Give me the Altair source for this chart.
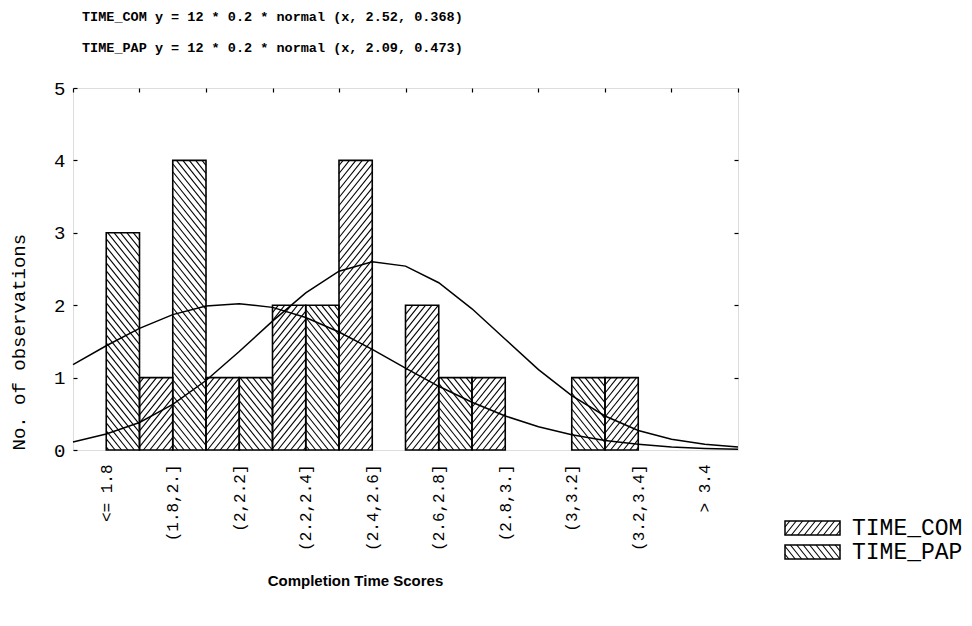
import altair as alt
import pandas as pd

# ---------------- data ----------------
categories = ["<= 1.8", "(1.8,2.]", "(2,2.2]", "(2.2,2.4]", "(2.4,2.6]",
              "(2.6,2.8]", "(2.8,3.]", "(3,3.2]", "(3.2,3.4]", "> 3.4"]
bin_edges = [1.6, 1.8, 2.0, 2.2, 2.4, 2.6, 2.8, 3.0, 3.2, 3.4, 3.6]
time_com = [0, 1, 1, 2, 4, 2, 1, 0, 1, 0]
time_pap = [3, 4, 1, 2, 0, 1, 0, 1, 0, 0]

curve_x = [1.6, 1.7, 1.8, 1.9, 2.0, 2.1, 2.2, 2.3, 2.4, 2.5, 2.6,
           2.7, 2.8, 2.9, 3.0, 3.1, 3.2, 3.3, 3.4, 3.5, 3.6]
curve_com = [0.11, 0.22, 0.38, 0.63, 0.96, 1.36, 1.78, 2.17, 2.47, 2.60, 2.54,
             2.31, 1.95, 1.53, 1.11, 0.75, 0.47, 0.27, 0.15, 0.08, 0.04]
curve_pap = [1.18, 1.44, 1.68, 1.87, 1.99, 2.02, 1.97, 1.83, 1.63, 1.39, 1.13,
             0.88, 0.66, 0.47, 0.32, 0.21, 0.13, 0.08, 0.04, 0.02, 0.01]

title_lines = ["TIME_COM y = 12 * 0.2 * normal (x, 2.52, 0.368)",
               "TIME_PAP y = 12 * 0.2 * normal (x, 2.09, 0.473)"]
series_names = ["TIME_COM", "TIME_PAP"]

# ---------------- geometry ----------------
W, H = 665, 362
XMIN, XMAX, YMAX = bin_edges[0], bin_edges[-1], 5
KX = W / (XMAX - XMIN)
KY = H / YMAX
SLOPE = 1.25
SPACING = 8.0
FONT_MONO = "Liberation Mono"


def hatch(w, h, direction, phase=0.0):
    """segments (x1,y1,x2,y2) of diagonal hatch inside a w x h box, y up"""
    segs = []
    k = int(-(SLOPE * w + phase) // SPACING) - 1
    while True:
        c = k * SPACING + phase
        k += 1
        if c > h:
            break
        lo = max(0.0, -c / SLOPE)
        hi = min(w, (h - c) / SLOPE)
        if hi - lo <= 0.3:
            continue
        x1, y1, x2, y2 = lo, SLOPE * lo + c, hi, SLOPE * hi + c
        if direction == "\\":
            x1, x2 = w - x1, w - x2
        segs.append((x1, y1, x2, y2))
    return segs


bar_rows, hatch_rows = [], []
for i, cat in enumerate(categories):
    lo = bin_edges[i]
    half = (bin_edges[i + 1] - lo) / 2
    for j, (name, counts) in enumerate(zip(series_names, [time_com, time_pap])):
        v = counts[i]
        if v <= 0:
            continue
        x0 = lo + j * half
        x1 = x0 + half
        bar_rows.append({"series": name, "cat": cat, "x0": x0, "x1": x1,
                         "count": v, "base": 0})
        wpx = half * KX
        hpx = v * KY
        d = "/" if name == "TIME_COM" else "\\"
        phase = ((x0 - XMIN) * KX * SLOPE) % SPACING
        for (a, b, c, e) in hatch(wpx, hpx, d, phase):
            hatch_rows.append({"hx": x0 + a / KX, "hy": b / KY,
                               "hx2": x0 + c / KX, "hy2": e / KY})

bars = pd.DataFrame(bar_rows)
hatches = pd.DataFrame(hatch_rows)

curves = pd.DataFrame(
    [{"series": "TIME_COM", "x": x, "y": y} for x, y in zip(curve_x, curve_com)] +
    [{"series": "TIME_PAP", "x": x, "y": y} for x, y in zip(curve_x, curve_pap)]
)

# legend (drawn outside the plot area, pixel coordinates relative to plot origin)
LEG_X, LEG_W, LEG_H = 712, 55, 14
leg_y = [433, 457]
leg_rects, leg_hatch, leg_text = [], [], []
for name, ytop in zip(series_names, leg_y):
    leg_rects.append({"lx": LEG_X, "lx2": LEG_X + LEG_W, "ly": ytop, "ly2": ytop + LEG_H})
    d = "/" if name == "TIME_COM" else "\\"
    for (a, b, c, e) in hatch(LEG_W, LEG_H, d):
        leg_hatch.append({"lx": LEG_X + a, "ly": ytop + LEG_H - b,
                          "lx2": LEG_X + c, "ly2": ytop + LEG_H - e})
    leg_text.append({"lx": LEG_X + LEG_W + 12, "ly": ytop + LEG_H / 2, "name": name})
leg_rects = pd.DataFrame(leg_rects)
leg_hatch = pd.DataFrame(leg_hatch)
leg_text = pd.DataFrame(leg_text)

# ---------------- chart ----------------
xs = alt.Scale(domain=[XMIN, XMAX], nice=False, zero=False)
ys = alt.Scale(domain=[0, YMAX], nice=False)

centers = [round((bin_edges[i] + bin_edges[i + 1]) / 2, 2) for i in range(len(categories))]
label_expr = "[" + ",".join("'" + c + "'" for c in categories) + "][round((datum.value - %s) / %s)]" % (
    centers[0], bin_edges[1] - bin_edges[0])

bar_fill = alt.Chart(bars).mark_rect(fill="white", stroke=None).encode(
    x=alt.X("x0:Q", scale=xs, axis=alt.Axis(
        orient="bottom", values=centers, labelExpr=label_expr, labelAngle=270,
        ticks=False, tickSize=0, domain=False, grid=False,
        labelFont=FONT_MONO, labelFontSize=16, labelColor="black",
        labelPadding=14, labelOverlap=False, labelFlush=False,
        title="Completion Time Scores", titleFont="Liberation Sans",
        titleFontSize=15, titleFontWeight="bold", titleColor="black",
        titlePadding=23, titleX=282, titleAlign="center")),
    x2="x1:Q",
    y=alt.Y("count:Q", scale=ys, axis=alt.Axis(
        orient="left", values=[0, 1, 2, 3, 4, 5], domain=False, grid=False,
        ticks=True, tickSize=4, offset=-4, tickColor="black", tickWidth=1.2,
        labelFont=FONT_MONO, labelFontSize=19, labelColor="black", labelPadding=8,
        title="No. of observations", titleFont=FONT_MONO, titleFontSize=19,
        titleFontWeight="normal", titleColor="black", titlePadding=25,
        titleAnchor="start")),
    y2="base:Q",
)

hatch_layer = alt.Chart(hatches).mark_rule(color="black", strokeWidth=1.1).encode(
    x=alt.X("hx:Q", scale=xs, axis=None),
    y=alt.Y("hy:Q", scale=ys, axis=None),
    x2="hx2:Q",
    y2="hy2:Q",
)

bar_outline = alt.Chart(bars).mark_rect(fill=None, stroke="black", strokeWidth=1.6).encode(
    x=alt.X("x0:Q", scale=xs, axis=None),
    x2="x1:Q",
    y=alt.Y("count:Q", scale=ys, axis=None),
    y2="base:Q",
)

curve_layer = alt.Chart(curves).mark_line(color="black", strokeWidth=1.5).encode(
    x=alt.X("x:Q", scale=xs, axis=alt.Axis(
        orient="top", values=bin_edges, labels=False, domain=False, grid=False,
        ticks=True, tickSize=4, offset=-4, tickColor="black", tickWidth=1.2, title=None)),
    y=alt.Y("y:Q", scale=ys, axis=alt.Axis(
        orient="right", values=[1, 2, 3, 4], labels=False, domain=False, grid=False,
        ticks=True, tickSize=4, offset=-4, tickColor="black", tickWidth=1.2, title=None)),
    detail="series:N",
)

legend_box = alt.Chart(leg_rects).mark_rect(fill="white", stroke="black", strokeWidth=1.5).encode(
    x=alt.X("lx:Q", scale=None, axis=None), x2="lx2:Q",
    y=alt.Y("ly:Q", scale=None, axis=None), y2="ly2:Q",
)
legend_hatch = alt.Chart(leg_hatch).mark_rule(color="black", strokeWidth=1.1).encode(
    x=alt.X("lx:Q", scale=None, axis=None), x2="lx2:Q",
    y=alt.Y("ly:Q", scale=None, axis=None), y2="ly2:Q",
)
legend_label = alt.Chart(leg_text).mark_text(
    align="left", baseline="middle", font=FONT_MONO, fontSize=23, color="black"
).encode(
    x=alt.X("lx:Q", scale=None, axis=None),
    y=alt.Y("ly:Q", scale=None, axis=None),
    text="name:N",
)

chart = alt.layer(
    bar_fill, hatch_layer, bar_outline, curve_layer,
    legend_box, legend_hatch, legend_label,
).resolve_axis(
    x="independent", y="independent"
).properties(
    width=W, height=H,
    autosize=alt.AutoSizeParams(type="none"),
    padding={"left": 65, "top": 80, "right": 226, "bottom": 168},
    title=alt.TitleParams(
        text=title_lines, anchor="start", font=FONT_MONO, fontSize=13.5,
        fontWeight="bold", color="black", lineHeight=31, offset=25, dx=9,
        frame="group"),
).configure_view(
    stroke="black", strokeWidth=1.6
).configure(background="white")

chart.save("out.html", embed_options={"renderer": "svg", "actions": False})
